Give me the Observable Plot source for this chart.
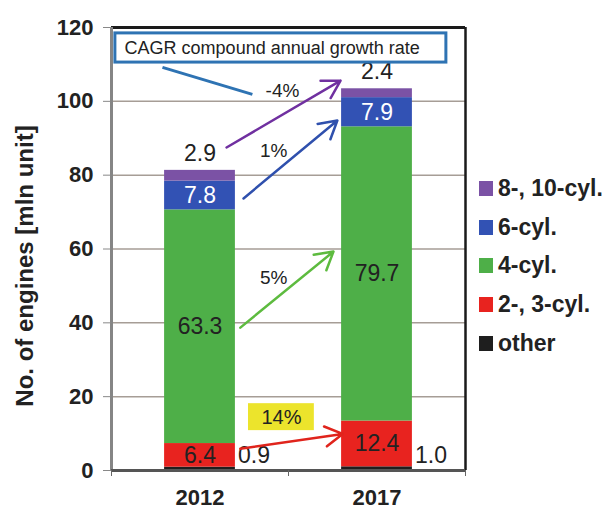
<!DOCTYPE html>
<html><head><meta charset="utf-8">
<script src="https://cdn.jsdelivr.net/npm/d3@7"></script>
<script src="https://cdn.jsdelivr.net/npm/@observablehq/plot@0.6"></script>
<style>
body{margin:0;background:#fff;font-family:"Liberation Sans",Arial,sans-serif;}
#wrap{position:relative;width:606px;height:510px;}
#legend{position:absolute;left:479px;top:169px;}
.row{display:flex;align-items:center;height:38.8px;font-weight:bold;font-size:23px;color:#222;white-space:nowrap}
.sw{width:14px;height:15px;margin-right:5px;flex:none}
</style></head><body><div id="wrap"></div>
<script>
// ---- data ----
const years = [2012, 2017];
const series = ["other", "2-, 3-cyl.", "4-cyl.", "6-cyl.", "8-, 10-cyl."];
const other = [0.9, 1.0];
const cyl23 = [6.4, 12.4];
const cyl4 = [63.3, 79.7];
const cyl6 = [7.8, 7.9];
const cyl810 = [2.9, 2.4];
const colors = ["#1e1e1e", "#e8231f", "#4eaf48", "#3252b4", "#7b52a5"];
const yTicks = [0, 20, 40, 60, 80, 100, 120];
const cagrTitle = "CAGR compound annual growth rate";
const cagrLabels = ["-4%", "1%", "5%", "14%"];

// ---- build table ----
const seriesValues = [other, cyl23, cyl4, cyl6, cyl810];
const rows = [];
years.forEach((yr, i) => {
  let base = 0;
  series.forEach((s, k) => {
    const v = seriesValues[k][i];
    rows.push({year: yr, series: s, value: v, y1: base, y2: base + v, k});
    base += v;
  });
});
const bigRows = rows.filter(d => d.k >= 1 && d.k <= 3);
const topRows = rows.filter(d => d.k === 4);
const otherRows = rows.filter(d => d.k === 0);

// annotation geometry (data coordinates)
const arrows = [
  {x1: 2012.75, y1: 87.5, x2: 2015.97, y2: 105.6, c: "#7030a0"},
  {x1: 2013.23, y1: 73.7, x2: 2015.88, y2: 94.8, c: "#2f50ad"},
  {x1: 2013.14, y1: 38.7, x2: 2015.77, y2: 59.3, c: "#5dbb3f"},
  {x1: 2013.14, y1: 5.9, x2: 2016.03, y2: 9.9, c: "#e0241c"}
];
const labelPos = [
  {x: 2014.33, y: 102.9, s: 19},
  {x: 2014.08, y: 86.7, s: 19},
  {x: 2014.08, y: 52.3, s: 19},
  {x: 2014.30, y: 14.4, s: 20}
];
const cagrLabelRows = cagrLabels.map((t, i) => ({t, ...labelPos[i]}));

const fmt = d3.format(".1f");

const marks = [
  Plot.ruleY([20, 40, 60, 80, 100], {stroke: "#a69d96", strokeWidth: 1.5}),
  Plot.rect(rows, {x1: d => d.year - 1, x2: d => d.year + 1, y1: "y1", y2: "y2", fill: "series"}),
  // frame
  Plot.ruleY([120], {stroke: "#1a1a1a", strokeWidth: 3}),
  Plot.ruleX([2019.5], {stroke: "#1a1a1a", strokeWidth: 2.5}),
  Plot.ruleX([2009.5], {stroke: "#858585", strokeWidth: 3}),
  Plot.ruleY([0], {stroke: "#555", strokeWidth: 3}),
  Plot.axisY({ticks: yTicks, tickSize: 8, tickPadding: 10, fontSize: 22, fontWeight: "bold", stroke: "#888", label: null}),
  Plot.axisX({ticks: [2009.5, 2014.5, 2019.5], tickSize: 6, tickFormat: () => "", stroke: "#666", label: null}),
  Plot.axisX({ticks: years, tickSize: 0, tickPadding: 19, fontSize: 22, fontWeight: "bold", tickFormat: d => String(d), label: null}),
  // value labels
  Plot.text(bigRows, {x: "year", y: d => (d.y1 + d.y2) / 2, text: d => fmt(d.value), fill: d => d.k === 3 ? "#fff" : "#222", fontSize: 23}),
  Plot.text(topRows, {x: "year", y: "y2", dy: -17, text: d => fmt(d.value), fill: "#222", fontSize: 23}),
  Plot.text(otherRows, {x: "year", y: "y1", dx: 54, dy: -15, text: d => fmt(d.value), fill: "#222", fontSize: 23}),
  // CAGR box
  Plot.rect([0], {x1: 2009.61, x2: 2018.96, y1: 110.5, y2: 118.4, fill: "#fff", stroke: "#2e73b3", strokeWidth: 3}),
  Plot.text([cagrTitle], {x: 2009.87, y: 114.4, text: d => d, textAnchor: "start", fontSize: 18, fill: "#222"}),
  Plot.link([0], {x1: 2010.94, y1: 109.2, x2: 2013.48, y2: 101.9, stroke: "#2e73b3", strokeWidth: 3}),
  Plot.rect([0], {x1: 2013.37, x2: 2015.23, y1: 10.8, y2: 18.1, fill: "#ece42c"}),
  ...arrows.map(a => Plot.arrow([a], {x1: "x1", y1: "y1", x2: "x2", y2: "y2", stroke: a.c, strokeWidth: 2.5, headLength: 12})),
  ...cagrLabelRows.map(r => Plot.text([r], {x: "x", y: "y", text: "t", fontSize: r.s, fill: "#222"})),
  // y label
  Plot.text(["No. of engines [mln unit]"], {frameAnchor: "left", textAnchor: "middle", dx: -86, dy: 17, rotate: -90, text: d => d, fontSize: 24, fontWeight: "bold", fill: "#222"})
];

const chart = Plot.plot({
  width: 606,
  height: 510,
  marginLeft: 111,
  marginRight: 141,
  marginTop: 27,
  marginBottom: 40,
  style: {fontFamily: "'Liberation Sans', Arial, sans-serif", color: "#222", background: "transparent", overflow: "visible"},
  x: {type: "linear", domain: [2009.5, 2019.5]},
  y: {domain: [0, 120]},
  color: {domain: series, range: colors},
  marks
});
const wrap = document.getElementById("wrap");
wrap.appendChild(chart);

const legend = document.createElement("div");
legend.id = "legend";
series.slice().reverse().forEach(s => {
  const r = document.createElement("div");
  r.className = "row";
  const sw = document.createElement("span");
  sw.className = "sw";
  sw.style.background = colors[series.indexOf(s)];
  const t = document.createElement("span");
  t.textContent = s;
  r.appendChild(sw); r.appendChild(t);
  legend.appendChild(r);
});
wrap.appendChild(legend);
</script></body></html>
